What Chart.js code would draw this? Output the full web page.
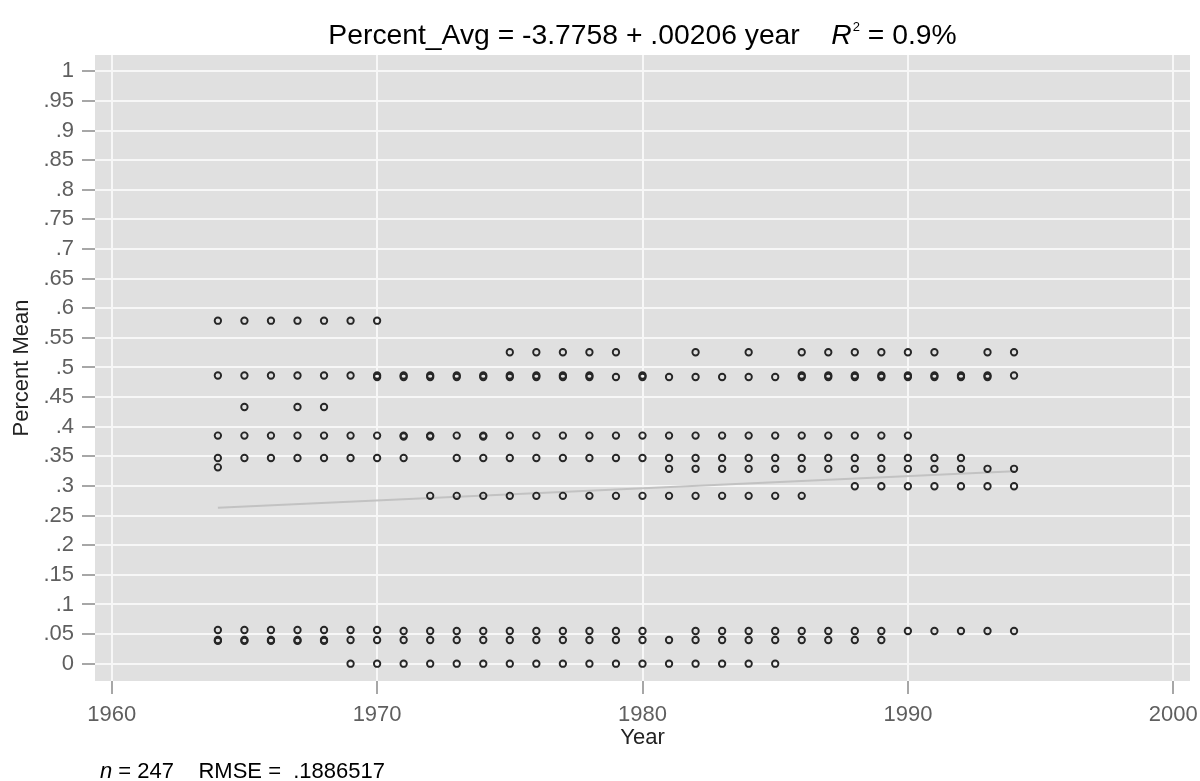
<!DOCTYPE html>
<html><head><meta charset="utf-8">
<script src="https://cdn.jsdelivr.net/npm/chart.js@4.4.0/dist/chart.umd.min.js"></script>
<style>
html,body{margin:0;padding:0;background:#fff;}
#wrap{position:relative;width:1200px;height:781px;overflow:hidden;font-family:"Liberation Sans",Arial,sans-serif;}
#c{position:absolute;left:0;top:0;}
#title{position:absolute;left:95px;width:1095px;top:20px;text-align:center;font-size:28.3px;line-height:28px;color:#000;white-space:pre;}
#title sup{font-size:13px;vertical-align:top;position:relative;top:-7px;margin-left:1px;}
#foot{position:absolute;left:100px;top:760px;font-size:22px;line-height:22px;color:#000;white-space:pre;}
</style></head><body>
<div id="wrap">
<canvas id="c" width="1200" height="781"></canvas>
<div id="title">Percent_Avg = -3.7758 + .00206 year    <i>R</i><sup>2</sup> = 0.9%</div>
<div id="foot"><i>n</i> = 247    RMSE =  .1886517</div>
</div>
<script>
// Tick positions and labels
const xTicks = [1960, 1970, 1980, 1990, 2000];
const yTicks = [0, 0.05, 0.1, 0.15, 0.2, 0.25, 0.3, 0.35, 0.4, 0.45, 0.5, 0.55, 0.6, 0.65, 0.7, 0.75, 0.8, 0.85, 0.9, 0.95, 1];
const yTickLabels = ['0', '.05', '.1', '.15', '.2', '.25', '.3', '.35', '.4', '.45', '.5', '.55', '.6', '.65', '.7', '.75', '.8', '.85', '.9', '.95', '1'];

// Observed Percent Mean levels (value) and the years at which each occurs
const levelValues = [0.579, 0.5257, 0.4865, 0.484, 0.4333, 0.385, 0.3835, 0.3472, 0.3315, 0.329, 0.2995, 0.2833, 0.0569, 0.0552, 0.040, 0.0385, 0];
const yearsAt0579 = [1964, 1965, 1966, 1967, 1968, 1969, 1970];
const yearsAt0526 = [1975, 1976, 1977, 1978, 1979, 1982, 1984, 1986, 1987, 1988, 1989, 1990, 1991, 1993, 1994];
const yearsAt0487 = [1964, 1965, 1966, 1967, 1968, 1969, 1970, 1971, 1972, 1973, 1974, 1975, 1976, 1977, 1978, 1980, 1986, 1987, 1988, 1989, 1990, 1991, 1992, 1993, 1994];
const yearsAt0484 = [1970, 1971, 1972, 1973, 1974, 1975, 1976, 1977, 1978, 1979, 1980, 1981, 1982, 1983, 1984, 1985, 1986, 1987, 1988, 1989, 1990, 1991, 1992, 1993];
const yearsAt0433 = [1965, 1967, 1968];
const yearsAt0385 = [1964, 1965, 1966, 1967, 1968, 1969, 1970, 1971, 1972, 1973, 1974, 1975, 1976, 1977, 1978, 1979, 1980, 1981, 1982, 1983, 1984, 1985, 1986, 1987, 1988, 1989, 1990];
const yearsAt0384 = [1971, 1972, 1974];
const yearsAt0347 = [1964, 1965, 1966, 1967, 1968, 1969, 1970, 1971, 1973, 1974, 1975, 1976, 1977, 1978, 1979, 1980, 1981, 1982, 1983, 1984, 1985, 1986, 1987, 1988, 1989, 1990, 1991, 1992];
const yearsAt0332 = [1964];
const yearsAt0329 = [1981, 1982, 1983, 1984, 1985, 1986, 1987, 1988, 1989, 1990, 1991, 1992, 1993, 1994];
const yearsAt0300 = [1988, 1989, 1990, 1991, 1992, 1993, 1994];
const yearsAt0283 = [1972, 1973, 1974, 1975, 1976, 1977, 1978, 1979, 1980, 1981, 1982, 1983, 1984, 1985, 1986];
const yearsAt0057 = [1964, 1965, 1966, 1967, 1968, 1969, 1970];
const yearsAt0055 = [1971, 1972, 1973, 1974, 1975, 1976, 1977, 1978, 1979, 1980, 1982, 1983, 1984, 1985, 1986, 1987, 1988, 1989, 1990, 1991, 1992, 1993, 1994];
const yearsAt0040 = [1964, 1965, 1966, 1967, 1968, 1969, 1970, 1971, 1972, 1973, 1974, 1975, 1976, 1977, 1978, 1979, 1980, 1981, 1982, 1983, 1984, 1985, 1986, 1987, 1988, 1989];
const yearsAt0039 = [1964, 1965, 1966, 1967, 1968];
const yearsAt0000 = [1969, 1970, 1971, 1972, 1973, 1974, 1975, 1976, 1977, 1978, 1979, 1980, 1981, 1982, 1983, 1984, 1985];
const levelYears = [yearsAt0579, yearsAt0526, yearsAt0487, yearsAt0484, yearsAt0433, yearsAt0385, yearsAt0384, yearsAt0347, yearsAt0332, yearsAt0329, yearsAt0300, yearsAt0283, yearsAt0057, yearsAt0055, yearsAt0040, yearsAt0039, yearsAt0000];
const fitRange = [1964, 1994];

// Build points
const points = [];
levelValues.forEach((v, i) => levelYears[i].forEach(yr => points.push({x: yr, y: v})));

// OLS fit
const n = points.length;
const mx = points.reduce((s, p) => s + p.x, 0) / n;
const my = points.reduce((s, p) => s + p.y, 0) / n;
let sxy = 0, sxx = 0;
points.forEach(p => { sxy += (p.x - mx) * (p.y - my); sxx += (p.x - mx) ** 2; });
const slope = sxy / sxx, intercept = my - slope * mx;
const fitLine = fitRange.map(x => ({x: x, y: intercept + slope * x}));

const bgPlugin = {
  id: 'plotBg',
  beforeDraw(chart) {
    const {ctx, chartArea: a} = chart;
    ctx.save();
    ctx.fillStyle = '#e0e0e0';
    ctx.fillRect(a.left, a.top, a.right - a.left, a.bottom - a.top);
    ctx.restore();
  }
};

const FONT = '"Liberation Sans", Arial, sans-serif';
new Chart(document.getElementById('c'), {
  type: 'scatter',
  data: {
    datasets: [
      {
        type: 'scatter', data: points, order: 0,
        pointStyle: 'circle', pointRadius: 3.2, pointBorderWidth: 1.9,
        borderColor: '#262626', backgroundColor: 'rgba(0,0,0,0)', pointHoverRadius: 3.2
      },
      {
        type: 'line', data: fitLine, order: 1,
        borderColor: '#c2c2c2', borderWidth: 2, pointRadius: 0, fill: false, tension: 0
      }
    ]
  },
  options: {
    responsive: false, animation: false, devicePixelRatio: 1,
    layout: {padding: {left: 0, top: 55, right: 10, bottom: 0}},
    plugins: {legend: {display: false}, tooltip: {enabled: false}, title: {display: false}},
    scales: {
      x: {
        type: 'linear', min: 1959.37, max: 2000.63,
        afterBuildTicks: s => { s.ticks = xTicks.map(v => ({value: v})); },
        afterFit: s => { s.height = 100; s.paddingLeft = 0; s.paddingRight = 0; },
        ticks: {font: {family: FONT, size: 22}, color: '#5f5f5f', padding: 8, maxRotation: 0, autoSkip: false,
                callback: v => String(v)},
        grid: {color: '#f7f7f7', lineWidth: 2, tickColor: '#8a8a8a', tickLength: 13, tickWidth: 1.5},
        border: {display: false},
        title: {display: true, text: 'Year', font: {family: FONT, size: 22}, color: '#222', padding: {top: 0, bottom: 30}}
      },
      y: {
        type: 'linear', min: -0.0292, max: 1.0275,
        afterBuildTicks: s => { s.ticks = yTicks.map(v => ({value: v})); },
        afterFit: s => { s.width = 95; s.paddingTop = 0; s.paddingBottom = 0; },
        ticks: {font: {family: FONT, size: 22}, color: '#5f5f5f', padding: 8, autoSkip: false,
                callback: (v, i) => yTickLabels[i]},
        grid: {color: '#f7f7f7', lineWidth: 2, tickColor: '#8a8a8a', tickLength: 13, tickWidth: 1.5},
        border: {display: false},
        title: {display: true, text: 'Percent Mean', font: {family: FONT, size: 22}, color: '#222', padding: {top: 9, bottom: 0}}
      }
    }
  },
  plugins: [bgPlugin]
});
</script>
</body></html>
